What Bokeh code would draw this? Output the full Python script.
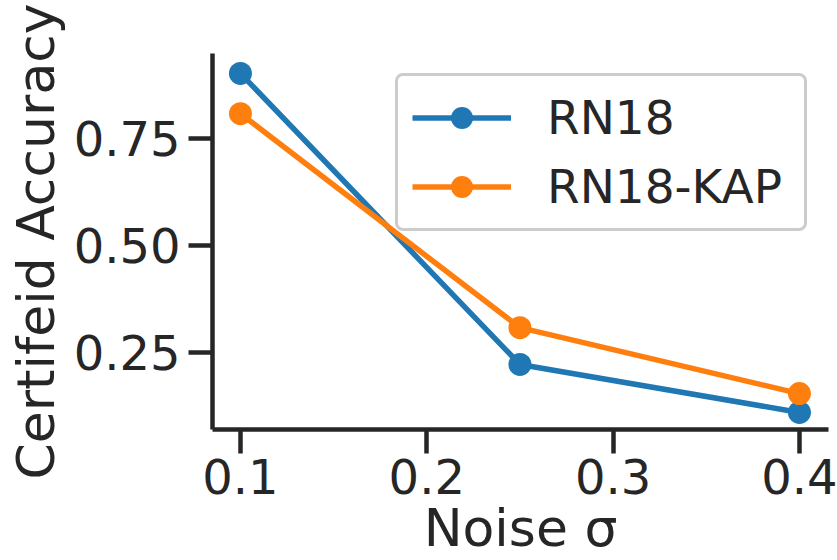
from bokeh.plotting import figure
from bokeh.models import FixedTicker, Legend, LegendItem, Range1d
from bokeh.embed import file_html
from bokeh.resources import INLINE

# ---- data ----
noise = [0.1, 0.25, 0.4]
rn18 = [0.902, 0.222, 0.110]
rn18_kap = [0.808, 0.308, 0.154]
series_names = ["RN18", "RN18-KAP"]
x_ticks = [0.1, 0.2, 0.3, 0.4]
y_ticks = [0.25, 0.5, 0.75]
y_tick_labels = ["0.25", "0.50", "0.75"]
x_label = "Noise σ"
y_label = "Certifeid Accuracy"

TEXT = "#262626"
FONT = "DejaVu Sans"
BLUE = "#1f77b4"
ORANGE = "#ff7f0e"

p = figure(width=837, height=560, output_backend="svg", toolbar_location=None,
           x_range=Range1d(0.085, 0.4156), y_range=Range1d(0.0701, 0.9486),
           min_border_left=212, min_border_right=9, min_border_top=53,
           min_border_bottom=131)
p.outline_line_color = None
p.xgrid.visible = False
p.ygrid.visible = False
p.background_fill_color = "white"
p.border_fill_color = "white"

l1 = p.line(noise, rn18, line_color=BLUE, line_width=5.5, line_join="round")
s1 = p.scatter(noise, rn18, size=23, fill_color=BLUE, line_color=None)
l2 = p.line(noise, rn18_kap, line_color=ORANGE, line_width=5.5, line_join="round")
s2 = p.scatter(noise, rn18_kap, size=23, fill_color=ORANGE, line_color=None)

for ax in (p.xaxis[0], p.yaxis[0]):
    ax.axis_line_color = TEXT
    ax.axis_line_width = 4.5
    ax.major_tick_line_color = TEXT
    ax.major_tick_line_width = 4.5
    ax.major_tick_out = 24
    ax.major_tick_in = 0
    ax.minor_tick_line_color = None
    ax.major_label_text_font = FONT
    ax.major_label_text_font_size = "48px"
    ax.major_label_text_color = TEXT
    ax.axis_label_text_font = FONT
    ax.axis_label_text_font_size = "52px"
    ax.axis_label_text_font_style = "normal"
    ax.axis_label_text_color = TEXT

p.xaxis.ticker = FixedTicker(ticks=x_ticks)
p.xaxis.major_label_standoff = 5
p.xaxis.axis_label = x_label
p.xaxis.axis_label_standoff = 1

p.yaxis.ticker = FixedTicker(ticks=y_ticks)
p.yaxis.major_label_overrides = {t: s for t, s in zip(y_ticks, y_tick_labels)}
p.yaxis.major_label_standoff = 8
p.yaxis.axis_label = y_label
p.yaxis.axis_label_standoff = 5

legend = Legend(items=[LegendItem(label=series_names[0], renderers=[l1, s1]),
                       LegendItem(label=series_names[1], renderers=[l2, s2])],
                location=(183, 198), label_text_font=FONT, label_text_font_size="47px",
                label_text_color=TEXT, glyph_width=99, glyph_height=55, label_height=55,
                label_width=243, label_standoff=36, padding=14, spacing=14, margin=0,
                border_line_color="#cccccc", border_line_width=3, border_line_alpha=1,
                background_fill_color="white", background_fill_alpha=0.8)
try:
    legend.border_radius = 8
except Exception:
    pass
p.add_layout(legend)

open("out.html", "w").write(file_html(p, INLINE))
